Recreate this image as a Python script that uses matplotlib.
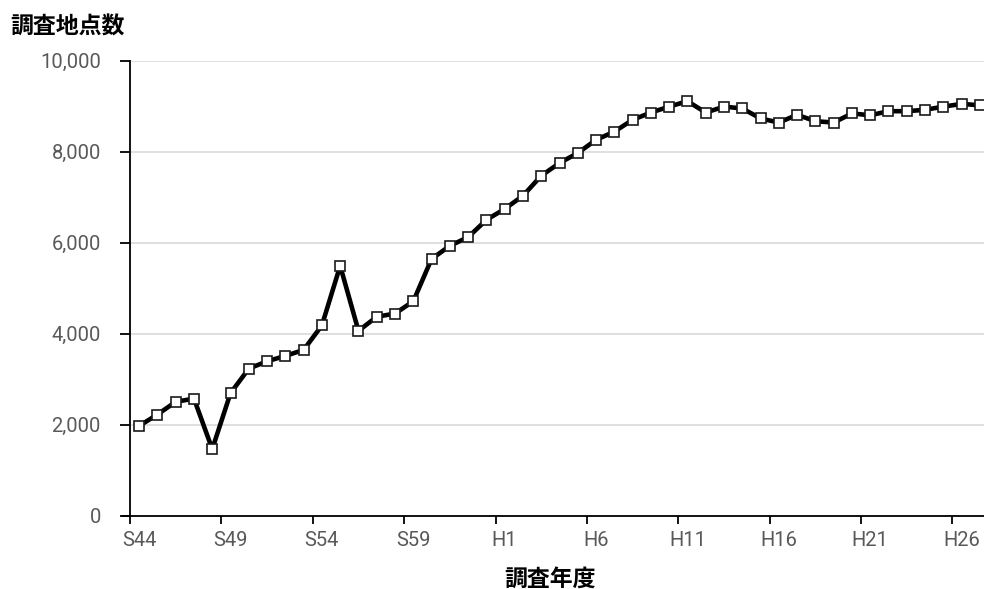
import matplotlib.pyplot as plt
from matplotlib.ticker import FuncFormatter

plt.rcParams['font.family'] = ['Noto Sans CJK JP', 'DejaVu Sans']

# 調査年度 (S44〜S63, H1〜H27)
years = ["S%d" % y for y in range(44, 64)] + ["H%d" % y for y in range(1, 28)]
points = [1970, 2220, 2500, 2570, 1460, 2690, 3230, 3390, 3510, 3640,
          4180, 5490, 4060, 4370, 4440, 4710, 5640, 5930, 6120, 6500,
          6740, 7030, 7470, 7750, 7970, 8260, 8440, 8700, 8860, 8990,
          9110, 8860, 8990, 8950, 8730, 8640, 8810, 8670, 8640, 8840,
          8800, 8890, 8890, 8920, 8990, 9050, 9020]

fig = plt.figure(figsize=(9.84, 5.89), dpi=100)
ax = fig.add_axes([130 / 984, 73.5 / 589, 859 / 984, 454.8 / 589])

x = [i + 0.5 for i in range(len(years))]
ax.plot(x, points, color='black', lw=3.3, marker='s', markersize=7.5,
        markerfacecolor='white', markeredgecolor='#1a1a1a', markeredgewidth=1.2,
        zorder=3, clip_on=False)

ax.set_xlim(0, len(years))
ax.set_ylim(0, 10000)
ax.set_yticks(range(0, 10001, 2000))
ax.yaxis.set_major_formatter(FuncFormatter(lambda v, p: "{:,.0f}".format(v)))
ax.grid(axis='y', color='#d9d9d9', lw=1.2)
ax.set_axisbelow(True)

# 目盛り線は5年ごとの区切り、ラベルは各年度の中央
ax.set_xticks(range(0, len(years), 5))
ax.set_xticklabels([])
ax.set_xticks([i + 0.5 for i in range(0, len(years), 5)], minor=True)
ax.set_xticklabels(years[::5], minor=True)
ax.tick_params(axis='x', which='major', length=6, width=1.3, color='black')
ax.tick_params(axis='x', which='minor', length=0, pad=11,
               labelsize=14.5, labelcolor='#595959')
ax.tick_params(axis='y', length=7, width=1.3, color='black', pad=14,
               labelsize=14.5, labelcolor='#595959')
for lab in ax.get_xticklabels(minor=True) + ax.get_yticklabels():
    lab.set_family(['Roboto', 'DejaVu Sans'])

for s in ['top', 'right']:
    ax.spines[s].set_visible(False)
ax.spines['left'].set_linewidth(1.3)
ax.spines['bottom'].set_linewidth(1.3)
ax.spines['bottom'].set_bounds(-0.4, len(years))

fig.text(10 / 984, 1 - 27 / 589, "調査地点数", fontsize=16.5, fontweight='bold',
         va='center', ha='left')
fig.text(550 / 984, 10 / 589, "調査年度", fontsize=16.5, fontweight='bold',
         va='center', ha='center')

fig.savefig("out.png", dpi=100)
